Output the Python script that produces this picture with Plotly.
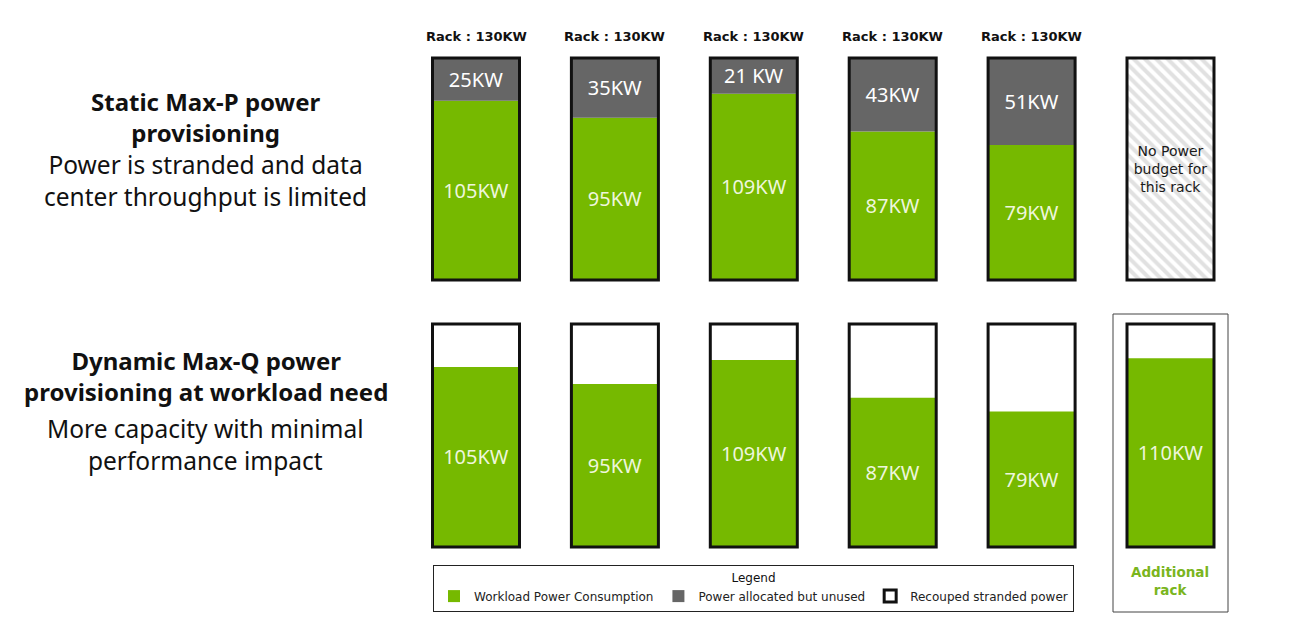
import plotly.graph_objects as go

# the page body keeps its 8px margin, so the figure is drawn 8px in from the corner
W, H = 1302, 643
OFF = 8
FW, FH = W - 2 * OFF, H - 2 * OFF

GREEN = "#76b900"
GRAY = "#666666"
BAR_FONT = "DejaVu Sans"
HEAD_FONT = "Noto Sans"

# data
rack_index = [0, 1, 2, 3, 4, 5]
rack_budget = 130
rack_labels = ["Rack : 130KW"] * 5
static_workload = [105, 95, 109, 87, 79]
static_unused = [25, 35, 21, 43, 51]
static_workload_text = ["105KW", "95KW", "109KW", "87KW", "79KW"]
static_unused_text = ["25KW", "35KW", "21 KW", "43KW", "51KW"]
dynamic_workload = [105, 95, 109, 87, 79, 110]
dynamic_workload_text = ["105KW", "95KW", "109KW", "87KW", "79KW", "110KW"]
legend_names = ["Workload Power Consumption", "Power allocated but unused",
                "Recouped stranded power"]


def y_range(zero_px, full_px, full_val):
    """axis range so that 0 and full_val land on the given screen rows"""
    zero_px -= OFF
    full_px -= OFF
    scale = (zero_px - full_px) / full_val
    return [(zero_px - FH) / scale, zero_px / scale]


def px(x):
    return (x - OFF) / FW


def py(y):
    return 1 - (y - OFF) / FH


X0, XSTEP = 476 - OFF, 138.9
x_range = [-X0 / XSTEP, (FW - X0) / XSTEP]
BW = 87 / XSTEP

label_font = dict(family=HEAD_FONT, size=20, color="#eef6dc")

fig = go.Figure()

# top row: static provisioning
fig.add_trace(go.Bar(
    x=rack_index[:5], y=static_workload, base=0, width=BW,
    marker=dict(color=GREEN, line=dict(width=0)),
    text=static_workload_text, textposition="inside", insidetextanchor="middle",
    textangle=0, textfont=label_font,
    name=legend_names[0], xaxis="x", yaxis="y",
))
fig.add_trace(go.Bar(
    x=rack_index[:5], y=static_unused, base=static_workload, width=BW,
    marker=dict(color=GRAY, line=dict(width=0)),
    text=static_unused_text, textposition="inside", insidetextanchor="middle",
    textangle=0, textfont=dict(label_font, color="white"),
    name=legend_names[1], xaxis="x", yaxis="y",
))
fig.add_trace(go.Bar(
    x=[rack_index[5]], y=[rack_budget], base=0, width=BW,
    marker=dict(color="white", line=dict(width=0),
                pattern=dict(shape="\\", fgcolor="#c4c4c4", bgcolor="white",
                             size=8, solidity=0.5)),
    text=["No Power<br>budget for<br>this rack"], textposition="inside",
    insidetextanchor="middle", textangle=0,
    textfont=dict(family=BAR_FONT, size=14, color="#1a1a1a"),
    showlegend=False, xaxis="x", yaxis="y",
))
fig.add_trace(go.Bar(
    x=rack_index, y=[rack_budget] * 6, base=0, width=BW,
    marker=dict(color="rgba(0,0,0,0)", line=dict(color="#111111", width=3)),
    showlegend=False, hoverinfo="skip", xaxis="x", yaxis="y",
))

# bottom row: dynamic provisioning
fig.add_trace(go.Bar(
    x=rack_index, y=dynamic_workload, base=0, width=BW,
    marker=dict(color=GREEN, line=dict(width=0)),
    text=dynamic_workload_text, textposition="inside", insidetextanchor="middle",
    textangle=0, textfont=label_font,
    showlegend=False, xaxis="x2", yaxis="y2",
))
fig.add_trace(go.Bar(
    x=rack_index, y=[rack_budget] * 6, base=0, width=BW,
    marker=dict(color="rgba(0,0,0,0)", line=dict(color="#111111", width=3)),
    name=legend_names[2], hoverinfo="skip", xaxis="x2", yaxis="y2",
))

annotations = []
for i, lab in zip(rack_index, rack_labels):
    annotations.append(dict(
        x=i, y=rack_budget, xref="x", yref="y", yanchor="bottom", yshift=12,
        text=f"<b>{lab}</b>", showarrow=False,
        font=dict(family=BAR_FONT, size=13, color="#111111"),
    ))

# left hand descriptions
left_text = [
    ("<b>Static Max-P power<br>provisioning</b>", 117, 24),
    ("Power is stranded and data<br>center throughput is limited", 180, 24.5),
    ("<b>Dynamic Max-Q power<br>provisioning at workload need</b>", 376, 24),
    ("More capacity with minimal<br>performance impact", 444, 24.5),
]
for txt, yc, size in left_text:
    annotations.append(dict(
        x=px(206), y=py(yc), xref="paper", yref="paper",
        xanchor="center", yanchor="middle",
        text=txt, showarrow=False, align="center",
        font=dict(family=HEAD_FONT, size=size, color="#111111"),
    ))

annotations.append(dict(
    x=px(1170), y=py(581), xref="paper", yref="paper",
    xanchor="center", yanchor="middle",
    text="<b>Additional<br>rack</b>", showarrow=False, align="center",
    font=dict(family=BAR_FONT, size=13.5, color="#7ab51d"),
))

shapes = [dict(
    type="rect", xref="paper", yref="paper",
    x0=px(1113), x1=px(1228), y0=py(612), y1=py(314),
    line=dict(color="#444444", width=1), fillcolor="rgba(0,0,0,0)",
)]

axis_off = dict(visible=False, fixedrange=True)
fig.update_layout(
    width=FW, height=FH,
    margin=dict(l=0, r=0, t=0, b=0),
    paper_bgcolor="white", plot_bgcolor="white",
    barmode="overlay",
    xaxis=dict(range=x_range, domain=[0, 1], anchor="y", **axis_off),
    xaxis2=dict(range=x_range, domain=[0, 1], anchor="y2", overlaying="x", **axis_off),
    yaxis=dict(range=y_range(280, 58, rack_budget), domain=[0, 1], **axis_off),
    yaxis2=dict(range=y_range(547, 324, rack_budget), domain=[0, 1],
                overlaying="y", **axis_off),
    legend=dict(
        orientation="h", x=px(433), y=py(565), xanchor="left", yanchor="top",
        bordercolor="#222222", borderwidth=1, bgcolor="white",
        title=dict(text="Legend", side="top center",
                   font=dict(family=BAR_FONT, size=12, color="#111111")),
        font=dict(family=BAR_FONT, size=12, color="#222222"),
        itemwidth=30, traceorder="normal",
    ),
    annotations=annotations,
    shapes=shapes,
)

fig.write_html("out.html")
